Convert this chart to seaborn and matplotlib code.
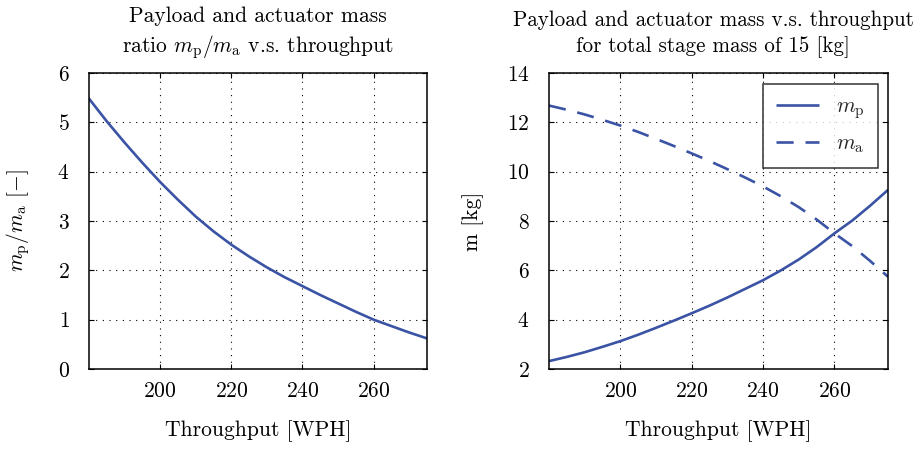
import numpy as np
import pandas as pd
import matplotlib
matplotlib.use("Agg")
import matplotlib.pyplot as plt
import seaborn as sns

# Data
throughput = [180, 185, 190, 195, 200, 205, 210, 215, 220, 225, 230,
              235, 240, 245, 250, 255, 260, 265, 270, 275]
mass_ratio = [5.48, 5.02, 4.59, 4.18, 3.79, 3.43, 3.09, 2.79, 2.52, 2.28, 2.06,
              1.86, 1.68, 1.50, 1.33, 1.16, 1.00, 0.87, 0.74, 0.62]
m_payload = [2.32, 2.49, 2.68, 2.90, 3.13, 3.39, 3.67, 3.96, 4.26, 4.57, 4.90,
             5.25, 5.60, 6.00, 6.44, 6.94, 7.50, 8.02, 8.62, 9.26]
m_actuator = [12.68, 12.51, 12.32, 12.10, 11.87, 11.61, 11.33, 11.04, 10.74, 10.43, 10.10,
              9.76, 9.40, 9.00, 8.56, 8.06, 7.50, 6.98, 6.38, 5.74]
x_ticks = [200, 220, 240, 260]
y_ticks_left = [0, 1, 2, 3, 4, 5, 6]
y_ticks_right = [2, 4, 6, 8, 10, 12, 14]

sns.set_theme(style="white")
plt.rcParams.update({
    "font.family": "serif",
    "font.serif": ["cmr10"],
    "mathtext.fontset": "cm",
    "axes.formatter.use_mathtext": True,
    "axes.unicode_minus": False,
})

FS = 15.5
BLUE = "#3a53a4"
W, H = 922, 449

fig = plt.figure(figsize=(9.22, 4.49), dpi=100)
ax1 = fig.add_axes([89/W, 1-369/H, 338/W, 296/H])
ax2 = fig.add_axes([549/W, 1-369/H, 339/W, 296/H])

df1 = pd.DataFrame({"x": throughput, "r": mass_ratio})
sns.lineplot(data=df1, x="x", y="r", ax=ax1, color=BLUE, linewidth=1.9)

df2 = pd.DataFrame({
    "x": throughput * 2,
    "m": m_payload + m_actuator,
    "s": [r"$m_\mathrm{p}$"] * len(throughput) + [r"$m_\mathrm{a}$"] * len(throughput),
})
sns.lineplot(data=df2, x="x", y="m", hue="s", style="s",
             palette=[BLUE, BLUE], dashes=[(1, 0), (6.5, 4.5)],
             ax=ax2, linewidth=1.9)

for ax, yt, yl in [(ax1, y_ticks_left, (0, 6)), (ax2, y_ticks_right, (2, 14))]:
    ax.set_xlim(180, 275)
    ax.set_ylim(*yl)
    ax.set_xticks(x_ticks)
    ax.set_yticks(yt)
    ax.grid(True, color="black", linestyle=(0, (1, 5)), linewidth=0.8)
    ax.tick_params(direction="in", length=3.5, width=0.8, color="black",
                   top=True, right=True, bottom=True, left=True,
                   labelsize=FS, labelcolor="black")
    ax.tick_params(axis="x", pad=9)
    ax.tick_params(axis="y", pad=14)
    for sp in ax.spines.values():
        sp.set_visible(True)
        sp.set_color("black")
        sp.set_linewidth(1.1)
    ax.set_xlabel(r"Throughput [WPH]", fontsize=FS, color="black", labelpad=14)

ax1.set_ylabel(r"$m_\mathrm{p}/m_\mathrm{a}$ [$-$]", fontsize=FS, color="black", labelpad=18)
ax2.set_ylabel(r"m [kg]", fontsize=FS, color="black", labelpad=16)
ax1.set_title("Payload and actuator mass\n" + r"ratio $m_\mathrm{p}/m_\mathrm{a}$ v.s. throughput",
              fontsize=FS, color="black", pad=15, linespacing=1.35)
ax2.set_title("Payload and actuator mass v.s. throughput\nfor total stage mass of 15 [kg]",
              fontsize=15.2, color="black", pad=15, linespacing=1.37, x=0.484)

leg = ax2.legend(loc="upper right", fontsize=FS, frameon=True, fancybox=False,
                 edgecolor="black", handlelength=2.0, borderpad=0.6, labelspacing=0.6,
                 handletextpad=0.8, borderaxespad=0,
                 bbox_to_anchor=(878/W, 1-84/H), bbox_transform=fig.transFigure)
leg.get_frame().set_linewidth(1.1)
leg.set_title(None)

fig.savefig("out.png", dpi=100)
